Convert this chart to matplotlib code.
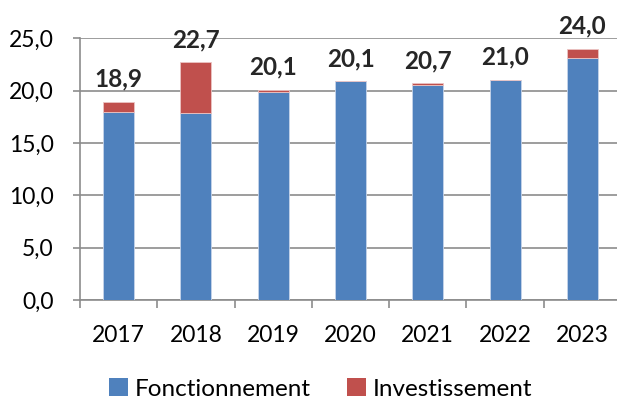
import numpy as np
import matplotlib
matplotlib.use("Agg")
import matplotlib.pyplot as plt
from matplotlib.patches import Patch

# data
years = ["2017", "2018", "2019", "2020", "2021", "2022", "2023"]
fonctionnement = [18.0, 17.9, 19.9, 20.9, 20.5, 21.0, 23.1]
investissement = [0.9, 4.8, 0.2, 0.0, 0.2, 0.0, 0.9]
total_labels = ["18,9", "22,7", "20,1", "20,1", "20,7", "21,0", "24,0"]
y_ticks = [0, 5, 10, 15, 20, 25]

blue = "#4f81bd"
red = "#c0504d"
grid_col = "#8c8c8c"
text_col = "#000000"

plt.rcParams["font.family"] = ["Lato", "DejaVu Sans"]
fs = 16.5

fig = plt.figure(figsize=(6.17, 4.03), dpi=100)
ax = fig.add_axes([80 / 617, 1 - 300 / 403, 541 / 617, (300 - 38.3) / 403])

x = np.arange(len(years))
ax.bar(x, fonctionnement, width=0.4, color=blue, edgecolor="#c6d4ea", linewidth=0.6, zorder=3)
ax.bar(x, investissement, width=0.4, bottom=fonctionnement, color=red,
       edgecolor="#ecc4c3", linewidth=0.6, zorder=3)

totals = np.array(fonctionnement) + np.array(investissement)
for xi, top, lab in zip(x, totals, total_labels):
    ax.annotate(lab, (xi, top), xytext=(0, 11), textcoords="offset points",
                ha="center", va="baseline", fontsize=17.5, fontweight="bold",
                color="#262626", annotation_clip=False)

ax.set_xlim(-0.5, len(years) - 0.5)
ax.set_ylim(0, 25)
ax.set_yticks(y_ticks)
ax.set_yticklabels([f"{v:.1f}".replace(".", ",") for v in y_ticks])
ax.set_xticks(x)
ax.set_xticklabels(years)
ax.set_xticks(np.arange(len(years) + 1) - 0.5, minor=True)

ax.tick_params(axis="y", direction="out", length=5, width=1.2, color=grid_col,
               pad=14, labelsize=fs, labelcolor=text_col)
ax.tick_params(axis="x", which="major", length=0, pad=18, labelsize=fs, labelcolor=text_col)
ax.tick_params(axis="x", which="minor", direction="out", length=6, width=1.2, color=grid_col)

ax.yaxis.grid(True, color=grid_col, linewidth=1.2, zorder=0)
ax.set_axisbelow(True)
for side in ["top", "right"]:
    ax.spines[side].set_visible(False)
for side in ["left", "bottom"]:
    ax.spines[side].set_color(grid_col)
    ax.spines[side].set_linewidth(1.2)

handles = [Patch(facecolor=blue, label="Fonctionnement"),
           Patch(facecolor=red, label="Investissement")]
fig.legend(handles=handles, loc="center", bbox_to_anchor=(321 / 617, 1 - 389 / 403),
           ncol=2, frameon=False, fontsize=17.5, handlelength=0.75, handleheight=0.75,
           handletextpad=0.3, columnspacing=1.5, borderaxespad=0)

fig.savefig("out.png", dpi=100)
